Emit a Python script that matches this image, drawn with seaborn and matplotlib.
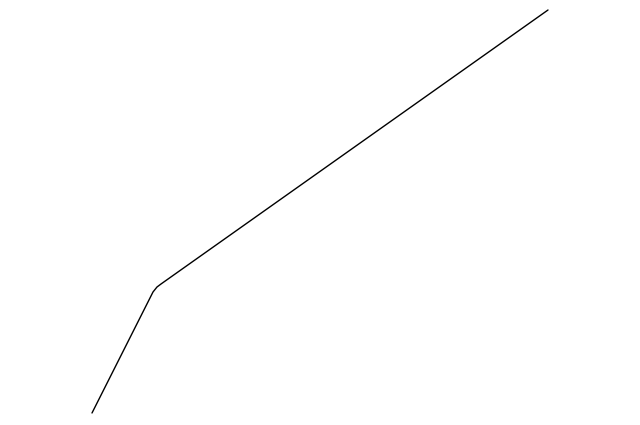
import matplotlib
matplotlib.use("Agg")
import matplotlib.pyplot as plt
import seaborn as sns
import pandas as pd

x_values = [0, 61, 65, 69, 456]
y_values = [0, 121, 126, 129, 403]

sns.set_theme(style="white")
df = pd.DataFrame({"x": x_values, "y": y_values})

fig = plt.figure(figsize=(6.4, 4.25), dpi=100)
ax = fig.add_axes([0, 0, 1, 1])
sns.lineplot(data=df, x="x", y="y", ax=ax, color="black", linewidth=1.0, sort=False)
ax.set_xlim(-92, 548)
ax.set_ylim(-12, 413)
ax.axis("off")
fig.savefig("out.png", dpi=100, facecolor="white")
